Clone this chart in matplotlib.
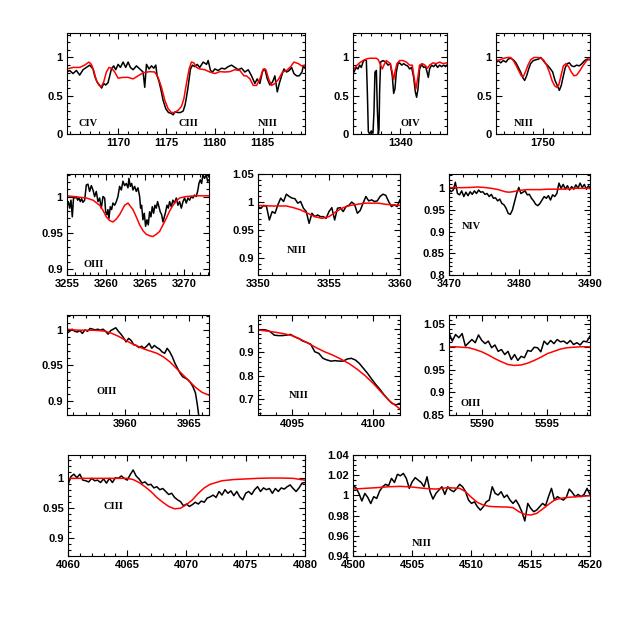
import matplotlib
matplotlib.use("Agg")
import matplotlib.pyplot as plt
from matplotlib.ticker import MultipleLocator, FormatStrFormatter, FixedLocator

# ---- panel 1: C IV / C III / N III, 1165-1189 A
p1_obs_x = [1164.65, 1164.93, 1165.28, 1165.63, 1165.97, 1166.32, 1166.67, 1167.01, 1167.36, 1167.53,
            1167.78, 1168.06, 1168.26, 1168.47, 1168.68, 1168.92, 1169.10, 1169.27, 1169.51, 1169.72,
            1169.97, 1170.21, 1170.49, 1170.76, 1171.01, 1171.25, 1171.53, 1171.88, 1172.22, 1172.57,
            1172.74, 1172.92, 1173.19, 1173.44, 1173.68, 1173.89, 1174.03, 1174.24, 1174.44, 1174.65,
            1174.93, 1175.21, 1175.49, 1175.69, 1175.90, 1176.18, 1176.46, 1176.74, 1176.94, 1177.08,
            1177.22, 1177.36, 1177.50, 1177.71, 1177.95, 1178.19, 1178.47, 1178.82, 1179.17, 1179.34,
            1179.58, 1179.79, 1180.03, 1180.38, 1180.73, 1181.08, 1181.42, 1181.77, 1182.12, 1182.47,
            1182.81, 1183.16, 1183.51, 1183.85, 1184.20, 1184.44, 1184.72, 1185.00, 1185.24, 1185.49,
            1185.76, 1186.04, 1186.28, 1186.53, 1186.74, 1186.98, 1187.22, 1187.50, 1187.78, 1188.02,
            1188.26, 1188.54, 1188.82, 1189.10, 1189.24, 1189.41]
p1_obs_y = [0.81, 0.83, 0.79, 0.83, 0.77, 0.84, 0.87, 0.90, 0.85, 0.76,
            0.68, 0.635, 0.60, 0.66, 0.64, 0.67, 0.76, 0.85, 0.89, 0.84,
            0.91, 0.87, 0.94, 0.87, 0.94, 0.87, 0.84, 0.89, 0.85, 0.81,
            0.61, 0.91, 0.85, 0.89, 0.86, 0.90, 0.76, 0.68, 0.57, 0.44,
            0.33, 0.28, 0.27, 0.25, 0.29, 0.28, 0.28, 0.30, 0.38, 0.48,
            0.59, 0.72, 0.85, 0.90, 0.88, 0.91, 0.87, 0.94, 0.91, 0.96,
            0.83, 0.81, 0.85, 0.83, 0.86, 0.85, 0.88, 0.90, 0.87, 0.84,
            0.86, 0.81, 0.84, 0.76, 0.66, 0.72, 0.66, 0.82, 0.85, 0.72,
            0.64, 0.68, 0.76, 0.55, 0.66, 0.76, 0.85, 0.81, 0.83, 0.87,
            0.79, 0.76, 0.76, 0.81, 0.89, 0.86]
p1_mod_x = [1164.65, 1165.28, 1165.97, 1166.49, 1166.94, 1167.19, 1167.43, 1167.71, 1167.99, 1168.23,
            1168.47, 1168.75, 1169.03, 1169.27, 1169.62, 1169.97, 1170.49, 1171.01, 1171.53, 1172.05,
            1172.57, 1173.26, 1173.78, 1174.13, 1174.48, 1174.83, 1175.17, 1175.52, 1175.87, 1176.22,
            1176.56, 1176.81, 1177.08, 1177.36, 1177.60, 1177.85, 1178.13, 1178.47, 1178.99, 1179.51,
            1180.03, 1180.56, 1181.08, 1181.60, 1182.12, 1182.64, 1183.06, 1183.33, 1183.68, 1184.03,
            1184.38, 1184.72, 1185.07, 1185.35, 1185.63, 1185.94, 1186.28, 1186.63, 1187.08, 1187.50,
            1187.92, 1188.26, 1188.72, 1189.06, 1189.41]
p1_mod_y = [0.85, 0.87, 0.87, 0.90, 0.94, 0.91, 0.83, 0.70, 0.635, 0.62,
            0.68, 0.81, 0.87, 0.86, 0.81, 0.73, 0.74, 0.74, 0.72, 0.76,
            0.80, 0.815, 0.81, 0.74, 0.61, 0.44, 0.33, 0.28, 0.28, 0.31,
            0.36, 0.46, 0.66, 0.85, 0.94, 0.93, 0.87, 0.85, 0.84, 0.81,
            0.79, 0.815, 0.81, 0.815, 0.84, 0.83, 0.76, 0.76, 0.72, 0.635,
            0.635, 0.72, 0.85, 0.84, 0.72, 0.635, 0.66, 0.71, 0.81, 0.83,
            0.88, 0.94, 0.92, 0.89, 0.90]

# ---- panel 2: O IV 1340
p2_obs_x = [1335.20, 1335.37, 1335.54, 1335.71, 1335.87, 1336.04, 1336.21, 1336.38, 1336.55, 1336.65,
            1336.75, 1336.88, 1337.05, 1337.22, 1337.32, 1337.42, 1337.56, 1337.66, 1337.76, 1337.83,
            1337.89, 1337.99, 1338.23, 1338.50, 1338.74, 1338.97, 1339.17, 1339.31, 1339.44, 1339.58,
            1339.75, 1339.91, 1340.12, 1340.32, 1340.52, 1340.72, 1340.92, 1341.13, 1341.33, 1341.50,
            1341.63, 1341.77, 1341.93, 1342.14, 1342.34, 1342.54, 1342.67, 1342.81, 1342.94, 1343.15,
            1343.35, 1343.55, 1343.75, 1343.95, 1344.16, 1344.36, 1344.56, 1344.69]
p2_obs_y = [0.785, 0.83, 0.87, 0.85, 0.90, 0.87, 0.94, 0.97, 0.96, 0.55,
            0.03, 0.0, 0.04, 0.01, 0.29, 0.81, 0.83, 0.33, 0.0, 0.06,
            0.55, 0.94, 0.96, 0.94, 0.90, 0.92, 0.76, 0.53, 0.59, 0.81,
            0.92, 0.93, 0.90, 0.92, 0.90, 0.89, 0.85, 0.87, 0.74, 0.55,
            0.48, 0.59, 0.85, 0.91, 0.87, 0.88, 0.815, 0.74, 0.85, 0.90,
            0.88, 0.91, 0.87, 0.90, 0.88, 0.90, 0.88, 0.90]
p2_mod_x = [1335.20, 1335.54, 1335.87, 1336.21, 1336.55, 1336.88, 1337.22, 1337.56, 1337.76, 1337.96,
            1338.16, 1338.36, 1338.57, 1338.77, 1338.97, 1339.17, 1339.31, 1339.44, 1339.64, 1339.91,
            1340.25, 1340.59, 1340.92, 1341.19, 1341.40, 1341.56, 1341.73, 1341.93, 1342.20, 1342.47,
            1342.74, 1342.94, 1343.28, 1343.62, 1343.95, 1344.29, 1344.69]
p2_mod_y = [0.84, 0.89, 0.93, 0.96, 0.98, 0.99, 0.99, 0.99, 0.97, 0.91,
            0.85, 0.91, 0.96, 0.94, 0.92, 0.81, 0.71, 0.81, 0.92, 0.96,
            0.96, 0.94, 0.90, 0.90, 0.72, 0.59, 0.72, 0.90, 0.92, 0.90,
            0.86, 0.90, 0.93, 0.92, 0.94, 0.92, 0.93]

# ---- panel 3: N III 1750
p3_obs_x = [1745.20, 1745.44, 1745.68, 1745.95, 1746.22, 1746.46, 1746.70, 1746.97, 1747.24, 1747.48,
            1747.72, 1747.92, 1748.13, 1748.33, 1748.54, 1748.74, 1749.01, 1749.29, 1749.56, 1749.76,
            1749.97, 1750.20, 1750.44, 1750.71, 1750.99, 1751.23, 1751.46, 1751.67, 1751.87, 1752.08,
            1752.28, 1752.49, 1752.69, 1752.93, 1753.17, 1753.44, 1753.71, 1753.98, 1754.26, 1754.53,
            1754.80]
p3_obs_y = [0.93, 0.96, 0.93, 0.96, 0.94, 0.98, 0.99, 0.97, 0.93, 0.87,
            0.81, 0.74, 0.70, 0.76, 0.85, 0.92, 0.96, 0.97, 0.98, 1.00,
            0.97, 0.93, 0.90, 0.86, 0.81, 0.70, 0.635, 0.57, 0.635, 0.76,
            0.87, 0.92, 0.93, 0.89, 0.88, 0.90, 0.89, 0.92, 0.96, 0.98,
            0.97]
p3_mod_x = [1745.20, 1745.61, 1746.02, 1746.36, 1746.70, 1746.97, 1747.24, 1747.51, 1747.79, 1747.99,
            1748.20, 1748.47, 1748.74, 1749.08, 1749.49, 1749.83, 1750.10, 1750.37, 1750.65, 1750.92,
            1751.19, 1751.40, 1751.60, 1751.80, 1752.08, 1752.35, 1752.62, 1752.89, 1753.17, 1753.44,
            1753.78, 1754.12, 1754.46, 1754.80]
p3_mod_y = [0.96, 0.97, 0.99, 1.00, 1.00, 0.96, 0.90, 0.83, 0.76, 0.75,
            0.81, 0.90, 0.97, 1.00, 1.00, 0.99, 0.96, 0.90, 0.81, 0.70,
            0.63, 0.61, 0.635, 0.74, 0.89, 0.92, 0.88, 0.81, 0.76, 0.77,
            0.83, 0.90, 0.96, 0.98]

# ---- panel 4: O III 3265
p4_obs_x = [3255.00, 3255.17, 3255.34, 3255.51, 3255.68, 3255.85, 3256.02, 3256.19, 3256.36, 3256.53,
            3256.70, 3256.87, 3257.04, 3257.26, 3257.47, 3257.68, 3257.89, 3258.11, 3258.32, 3258.53,
            3258.74, 3258.96, 3259.17, 3259.38, 3259.60, 3259.81, 3259.94, 3260.11, 3260.23, 3260.36,
            3260.53, 3260.70, 3260.87, 3261.09, 3261.30, 3261.51, 3261.72, 3261.94, 3262.15, 3262.36,
            3262.57, 3262.79, 3262.91, 3263.09, 3263.26, 3263.43, 3263.64, 3263.85, 3264.06, 3264.28,
            3264.40, 3264.53, 3264.70, 3264.87, 3265.04, 3265.21, 3265.38, 3265.55, 3265.72, 3265.89,
            3266.06, 3266.23, 3266.40, 3266.57, 3266.74, 3266.91, 3267.09, 3267.26, 3267.43, 3267.60,
            3267.77, 3267.94, 3268.11, 3268.32, 3268.53, 3268.74, 3268.96, 3269.17, 3269.38, 3269.60,
            3269.81, 3270.02, 3270.23, 3270.45, 3270.66, 3270.87, 3271.09, 3271.30, 3271.51, 3271.72,
            3271.85, 3272.02, 3272.19, 3272.36, 3272.57, 3272.79, 3272.96, 3273.13]
p4_obs_y = [0.9885, 0.993, 0.984, 0.995, 0.972, 1.0, 0.998, 1.0, 0.995, 0.998,
            0.993, 0.997, 0.992, 0.995, 1.016, 1.017, 1.007, 1.015, 1.009, 1.0,
            1.007, 0.993, 0.998, 0.984, 1.0, 0.998, 0.979, 0.975, 0.982, 0.970,
            0.986, 0.982, 0.991, 0.988, 0.993, 1.0, 1.014, 1.009, 1.021, 1.015,
            1.018, 1.012, 1.025, 1.014, 1.018, 1.009, 1.014, 1.007, 1.012, 1.0,
            0.984, 0.988, 0.968, 0.977, 0.959, 0.968, 0.961, 0.979, 0.972, 0.986,
            0.977, 0.988, 0.984, 0.993, 0.986, 0.979, 0.975, 0.965, 0.972, 0.979,
            0.988, 0.984, 0.993, 0.986, 0.995, 0.991, 0.998, 0.988, 0.993, 0.984,
            0.993, 0.998, 0.991, 0.998, 0.995, 1.0, 0.998, 1.002, 1.0, 1.009,
            1.018, 1.023, 1.018, 1.030, 1.025, 1.030, 1.021, 1.023]
p4_mod_x = [3255.00, 3255.77, 3256.62, 3257.47, 3258.32, 3259.17, 3259.60, 3260.02, 3260.45, 3260.87,
            3261.30, 3261.72, 3262.36, 3262.79, 3263.43, 3263.85, 3264.28, 3264.70, 3265.13, 3265.55,
            3265.98, 3266.40, 3266.83, 3267.26, 3267.68, 3268.11, 3268.53, 3268.96, 3269.38, 3270.23,
            3271.51, 3273.13]
p4_mod_y = [1.001, 1.0, 0.999, 0.998, 0.995, 0.988, 0.981, 0.972, 0.967, 0.965,
            0.969, 0.975, 0.988, 0.991, 0.982, 0.972, 0.961, 0.953, 0.948, 0.946,
            0.945, 0.948, 0.952, 0.961, 0.970, 0.980, 0.988, 0.994, 0.998, 1.0,
            1.001, 1.001]

# ---- panel 5: N III 3355
p5_obs_x = [3350.0, 3350.2, 3350.4, 3350.6, 3350.8, 3351.0, 3351.2, 3351.4, 3351.6, 3351.8,
            3352.0, 3352.2, 3352.4, 3352.6, 3352.8, 3353.0, 3353.2, 3353.4, 3353.6, 3353.8,
            3354.0, 3354.2, 3354.4, 3354.6, 3354.8, 3355.0, 3355.2, 3355.4, 3355.6, 3355.8,
            3356.0, 3356.2, 3356.4, 3356.6, 3356.8, 3357.0, 3357.2, 3357.4, 3357.6, 3357.8,
            3358.0, 3358.2, 3358.4, 3358.6, 3358.8, 3359.0, 3359.2, 3359.4, 3359.6, 3359.8,
            3360.0]
p5_obs_y = [0.992, 0.989, 0.994, 0.992, 0.968, 0.983, 0.980, 0.995, 1.007, 1.001,
            1.014, 1.010, 1.007, 1.006, 0.998, 1.001, 0.989, 0.983, 0.962, 0.980,
            0.974, 0.977, 0.974, 0.974, 0.971, 0.983, 0.990, 0.968, 0.989, 0.990,
            0.983, 0.992, 0.994, 1.0, 0.996, 0.980, 0.985, 0.998, 1.010, 1.002,
            1.004, 1.001, 1.002, 1.010, 1.014, 1.012, 1.001, 0.992, 0.995, 0.992,
            1.004]
p5_mod_x = [3350.0, 3350.5, 3351.0, 3351.5, 3352.0, 3352.5, 3353.0, 3353.5, 3354.0, 3354.5,
            3355.0, 3355.5, 3356.0, 3356.5, 3357.0, 3357.5, 3358.0, 3358.5, 3359.0, 3359.5,
            3360.0]
p5_mod_y = [0.994, 0.9935, 0.993, 0.993, 0.993, 0.990, 0.986, 0.980, 0.974, 0.971,
            0.974, 0.983, 0.990, 0.994, 0.996, 0.998, 0.998, 0.998, 0.996, 0.995,
            0.994]

# ---- panel 6: N IV 3480
p6_obs_x = [3470.0, 3470.3, 3470.6, 3470.9, 3471.2, 3471.5, 3471.8, 3472.1, 3472.4, 3472.7,
            3473.0, 3473.3, 3473.6, 3473.9, 3474.2, 3474.5, 3474.8, 3475.1, 3475.4, 3475.7,
            3476.0, 3476.3, 3476.6, 3476.9, 3477.2, 3477.5, 3477.8, 3478.1, 3478.4, 3478.7,
            3479.0, 3479.3, 3479.6, 3479.9, 3480.2, 3480.5, 3480.8, 3481.1, 3481.4, 3481.7,
            3482.0, 3482.3, 3482.6, 3482.9, 3483.2, 3483.5, 3483.8, 3484.1, 3484.4, 3484.7,
            3485.0, 3485.3, 3485.6, 3485.9, 3486.2, 3486.5, 3486.8, 3487.1, 3487.4, 3487.7,
            3488.0, 3488.3, 3488.6, 3488.9, 3489.2, 3489.5, 3489.8, 3490.0]
p6_obs_y = [0.998, 0.992, 0.996, 1.014, 0.988, 0.985, 0.994, 0.981, 0.991, 0.983,
            0.992, 0.986, 0.994, 0.988, 0.996, 0.991, 0.992, 0.986, 0.988, 0.981,
            0.986, 0.977, 0.978, 0.971, 0.975, 0.965, 0.962, 0.954, 0.942, 0.940,
            0.950, 0.969, 0.988, 1.002, 0.988, 0.991, 0.994, 0.985, 0.986, 0.977,
            0.971, 0.963, 0.960, 0.965, 0.973, 0.981, 0.977, 0.983, 0.973, 0.985,
            0.981, 0.988, 1.012, 1.0, 1.009, 0.998, 1.006, 0.996, 1.004, 0.998,
            1.008, 1.0, 1.012, 1.002, 1.009, 0.998, 1.006, 1.0]
p6_mod_x = [3470, 3471, 3472, 3473, 3474, 3475, 3476, 3477, 3478, 3478.5, 3479,
            3480, 3481, 3482, 3483, 3484, 3485, 3486, 3487, 3488, 3489, 3490]
p6_mod_y = [1.0015, 1.0015, 1.0015, 1.002, 1.003, 1.002, 1.0, 0.997, 0.992, 0.991, 0.992,
            0.995, 0.997, 0.997, 0.997, 0.998, 0.998, 0.998, 0.999, 1.0, 1.0, 1.0]

# ---- panel 7: O III 3962
p7_obs_x = [3955.5, 3955.7, 3955.9, 3956.1, 3956.3, 3956.5, 3956.7, 3956.9, 3957.1, 3957.3,
            3957.5, 3957.7, 3957.9, 3958.1, 3958.3, 3958.5, 3958.7, 3958.9, 3959.1, 3959.3,
            3959.5, 3959.7, 3959.9, 3960.1, 3960.3, 3960.5, 3960.7, 3960.9, 3961.1, 3961.3,
            3961.5, 3961.7, 3961.9, 3962.1, 3962.3, 3962.5, 3962.7, 3962.9, 3963.1, 3963.3,
            3963.5, 3963.7, 3963.9, 3964.1, 3964.3, 3964.5, 3964.7, 3964.9, 3965.1, 3965.3,
            3965.5, 3965.65, 3965.75, 3965.85]
p7_obs_y = [0.995, 0.998, 1.001, 0.998, 0.997, 0.999, 0.995, 1.0, 0.998, 1.002,
            1.001, 1.0, 1.001, 0.9995, 1.001, 0.998, 0.994, 0.999, 1.001, 1.003,
            0.998, 0.994, 0.989, 0.983, 0.988, 0.985, 0.979, 0.978, 0.975, 0.977,
            0.974, 0.977, 0.981, 0.974, 0.978, 0.975, 0.973, 0.969, 0.967, 0.974,
            0.969, 0.962, 0.953, 0.946, 0.939, 0.934, 0.932, 0.930, 0.926, 0.920,
            0.911, 0.894, 0.880, 0.860]
p7_mod_x = [3955.5, 3956.0, 3956.5, 3957.0, 3957.5, 3958.0, 3958.5, 3959.0, 3959.5, 3960.0,
            3960.5, 3961.0, 3961.5, 3962.0, 3962.5, 3963.0, 3963.5, 3964.0, 3964.5, 3965.0,
            3965.5, 3966.0, 3966.55]
p7_mod_y = [1.001, 1.0, 0.9995, 0.9995, 0.9995, 0.999, 0.998, 0.995, 0.991, 0.986,
            0.981, 0.977, 0.973, 0.970, 0.967, 0.962, 0.955, 0.946, 0.937, 0.928,
            0.919, 0.912, 0.908]

# ---- panel 8: N III 4097
p8_obs_x = [4092.9, 4093.15, 4093.4, 4093.65, 4093.9, 4094.15, 4094.4, 4094.65, 4094.9, 4095.15,
            4095.4, 4095.65, 4095.9, 4096.15, 4096.4, 4096.65, 4096.9, 4097.15, 4097.4, 4097.65,
            4097.9, 4098.15, 4098.4, 4098.65, 4098.9, 4099.15, 4099.4, 4099.65, 4099.9, 4100.15,
            4100.4, 4100.65, 4100.9, 4101.15, 4101.4, 4101.65]
p8_obs_y = [0.996, 0.997, 0.996, 0.989, 0.974, 0.972, 0.972, 0.974, 0.977, 0.967,
            0.960, 0.949, 0.943, 0.935, 0.903, 0.896, 0.875, 0.868, 0.863, 0.865,
            0.863, 0.863, 0.872, 0.875, 0.868, 0.853, 0.832, 0.811, 0.787, 0.764,
            0.744, 0.721, 0.701, 0.683, 0.676, 0.683]
p8_mod_x = [4092.9, 4093.5, 4094.0, 4094.5, 4095.0, 4095.5, 4096.0, 4096.5, 4097.0, 4097.5,
            4098.0, 4098.5, 4099.0, 4099.5, 4100.0, 4100.5, 4101.0, 4101.65]
p8_mod_y = [0.996, 0.991, 0.986, 0.980, 0.972, 0.957, 0.939, 0.920, 0.903, 0.889,
            0.872, 0.853, 0.829, 0.801, 0.768, 0.730, 0.693, 0.659]

# ---- panel 9: O III 5592
p9_obs_x = [5587.5, 5587.75, 5588.0, 5588.25, 5588.5, 5588.75, 5589.0, 5589.25, 5589.5, 5589.75,
            5590.0, 5590.25, 5590.5, 5590.75, 5591.0, 5591.25, 5591.5, 5591.75, 5592.0, 5592.25,
            5592.5, 5592.75, 5593.0, 5593.25, 5593.5, 5593.75, 5594.0, 5594.25, 5594.5, 5594.75,
            5595.0, 5595.25, 5595.5, 5595.75, 5596.0, 5596.25, 5596.5, 5596.75, 5597.0, 5597.25,
            5597.5, 5597.75, 5598.0, 5598.25]
p9_obs_y = [1.031, 1.0125, 1.027, 1.020, 1.029, 1.0015, 1.009, 1.016, 1.009, 1.026,
            1.014, 1.007, 1.0125, 0.998, 1.004, 0.990, 0.994, 0.983, 0.990, 0.972,
            0.983, 0.970, 0.979, 0.976, 0.992, 0.990, 0.999, 0.998, 0.989, 1.0125,
            1.005, 1.014, 1.007, 1.016, 1.011, 1.0125, 1.007, 1.014, 1.005, 1.009,
            1.004, 1.0125, 1.011, 1.0235]
p9_mod_x = [5587.5, 5588.0, 5588.5, 5589.0, 5589.5, 5590.0, 5590.5, 5591.0, 5591.5, 5592.0,
            5592.5, 5593.0, 5593.5, 5594.0, 5594.5, 5595.0, 5595.5, 5596.0, 5596.5, 5597.0,
            5597.5, 5598.25]
p9_mod_y = [1.0, 1.0, 0.999, 0.998, 0.994, 0.989, 0.982, 0.974, 0.967, 0.961,
            0.959, 0.960, 0.964, 0.970, 0.977, 0.985, 0.990, 0.995, 0.998, 0.999,
            1.0, 1.0]

# ---- panel 10: C III 4070
p10_obs_x = [4060.0, 4060.25, 4060.5, 4060.75, 4061.0, 4061.25, 4061.5, 4061.75, 4062.0, 4062.25,
             4062.5, 4062.75, 4063.0, 4063.25, 4063.5, 4063.75, 4064.0, 4064.25, 4064.5, 4064.75,
             4065.0, 4065.25, 4065.5, 4065.75, 4066.0, 4066.25, 4066.5, 4066.75, 4067.0, 4067.25,
             4067.5, 4067.75, 4068.0, 4068.25, 4068.5, 4068.75, 4069.0, 4069.25, 4069.5, 4069.75,
             4070.0, 4070.25, 4070.5, 4070.75, 4071.0, 4071.25, 4071.5, 4071.75, 4072.0, 4072.25,
             4072.5, 4072.75, 4073.0, 4073.25, 4073.5, 4073.75, 4074.0, 4074.25, 4074.5, 4074.75,
             4075.0, 4075.25, 4075.5, 4075.75, 4076.0, 4076.25, 4076.5, 4076.75, 4077.0, 4077.25,
             4077.5, 4077.75, 4078.0, 4078.25, 4078.5, 4078.75, 4079.0, 4079.25, 4079.5, 4079.75,
             4080.0]
p10_obs_y = [0.989, 1.003, 1.007, 1.001, 1.007, 0.997, 0.996, 0.994, 1.0, 0.996,
             0.997, 0.993, 0.999, 0.992, 1.0, 0.993, 1.001, 1.0, 1.004, 1.0,
             0.997, 1.006, 1.014, 1.004, 0.999, 0.992, 0.994, 0.989, 0.990, 0.984,
             0.986, 0.981, 0.983, 0.978, 0.973, 0.975, 0.968, 0.964, 0.961, 0.954,
             0.957, 0.953, 0.956, 0.960, 0.957, 0.962, 0.960, 0.967, 0.969, 0.972,
             0.968, 0.978, 0.972, 0.981, 0.975, 0.979, 0.971, 0.978, 0.969, 0.964,
             0.975, 0.978, 0.973, 0.981, 0.986, 0.978, 0.984, 0.981, 0.983, 0.975,
             0.983, 0.978, 0.984, 0.982, 0.986, 0.989, 0.983, 0.978, 0.984, 0.992,
             0.993]
p10_mod_x = [4060, 4061, 4062, 4063, 4064, 4065, 4065.5, 4066, 4066.5, 4067,
             4067.5, 4068, 4068.5, 4069, 4069.5, 4070, 4070.5, 4071, 4071.5, 4072,
             4073, 4074, 4075, 4076, 4077, 4078, 4079, 4080]
p10_mod_y = [1.0, 1.0, 1.0, 1.0, 1.0, 1.0, 0.998, 0.993, 0.986, 0.978,
             0.968, 0.960, 0.953, 0.949, 0.950, 0.956, 0.964, 0.975, 0.984, 0.990,
             0.996, 0.998, 0.999, 1.0, 1.0005, 1.0005, 1.0, 0.997]

# ---- panel 11: N III 4515
p11_obs_x = [4500.0, 4500.25, 4500.5, 4500.75, 4501.0, 4501.25, 4501.5, 4501.75, 4502.0, 4502.25,
             4502.5, 4502.75, 4503.0, 4503.25, 4503.5, 4503.75, 4504.0, 4504.25, 4504.5, 4504.75,
             4505.0, 4505.25, 4505.5, 4505.75, 4506.0, 4506.25, 4506.5, 4506.75, 4507.0, 4507.25,
             4507.5, 4507.75, 4508.0, 4508.25, 4508.5, 4508.75, 4509.0, 4509.25, 4509.5, 4509.75,
             4510.0, 4510.25, 4510.5, 4510.75, 4511.0, 4511.25, 4511.5, 4511.75, 4512.0, 4512.25,
             4512.5, 4512.75, 4513.0, 4513.25, 4513.5, 4513.75, 4514.0, 4514.25, 4514.5, 4514.75,
             4515.0, 4515.25, 4515.5, 4515.75, 4516.0, 4516.25, 4516.5, 4516.75, 4517.0, 4517.25,
             4517.5, 4517.75, 4518.0, 4518.25, 4518.5, 4518.75, 4519.0, 4519.25, 4519.5, 4519.75,
             4520.0]
p11_obs_y = [1.0096, 1.0077, 1.002, 0.9945, 1.002, 0.998, 0.992, 0.9988, 0.997, 1.0044,
             1.0086, 1.011, 1.0096, 1.0169, 1.0129, 1.0209, 1.0195, 1.0218, 1.0169, 1.007,
             1.0136, 1.0176, 1.0152, 1.0129, 1.0086, 1.0185, 1.0037, 0.9964, 1.002, 1.0053,
             1.0086, 1.001, 1.0086, 1.0053, 1.0037, 1.007, 1.011, 1.0086, 1.0037, 0.9954,
             0.9921, 0.9937, 0.9888, 0.9855, 0.9888, 0.9937, 0.9954, 1.0086, 1.002, 1.0004,
             1.0037, 0.998, 1.0004, 0.9954, 0.9921, 0.9954, 0.9905, 0.9839, 0.9747, 0.9921,
             0.9872, 0.9839, 0.9855, 0.9888, 0.9921, 0.9898, 0.9988, 1.007, 0.9954, 0.9988,
             0.997, 0.9954, 0.998, 1.0063, 1.003, 0.9988, 1.001, 0.9988, 1.001, 1.007,
             1.001]
p11_mod_x = [4500, 4501, 4502, 4503, 4504, 4505, 4506, 4507, 4508, 4509,
             4509.5, 4510, 4510.5, 4511, 4511.5, 4512, 4513, 4513.5, 4514, 4514.5,
             4515, 4515.5, 4516, 4516.5, 4517, 4517.5, 4518, 4519, 4520]
p11_mod_y = [1.0063, 1.007, 1.0077, 1.0086, 1.009, 1.0083, 1.007, 1.0063, 1.0077, 1.007,
             1.0037, 0.998, 0.9931, 0.9905, 0.9892, 0.9888, 0.9885, 0.9879, 0.9839, 0.9813,
             0.9806, 0.9822, 0.9865, 0.9911, 0.9954, 0.997, 0.998, 0.9988, 0.9997]

TICK_FONT = {"family": "Liberation Sans", "weight": "bold", "size": 8}
LABEL_FONT = {"family": "Liberation Serif", "weight": "bold", "size": 7.5}

fig = plt.figure(figsize=(6.23, 6.23), dpi=100)


def panel(rect, xlim, ylim, xticks, xminor, yticks, yminor, obs, mod, labels):
    ax = fig.add_axes(rect)
    ax.plot(obs[0], obs[1], color="black", lw=1.1)
    ax.plot(mod[0], mod[1], color="red", lw=1.1)
    ax.set_xlim(*xlim)
    ax.set_ylim(*ylim)
    ax.xaxis.set_major_locator(FixedLocator(xticks))
    ax.xaxis.set_minor_locator(MultipleLocator(xminor))
    ax.yaxis.set_major_locator(FixedLocator(yticks))
    ax.yaxis.set_minor_locator(MultipleLocator(yminor))
    ax.xaxis.set_major_formatter(FormatStrFormatter("%g"))
    ax.yaxis.set_major_formatter(FormatStrFormatter("%g"))
    ax.tick_params(which="both", direction="in", top=True, right=True, width=0.8)
    ax.tick_params(which="major", length=4.5, pad=3)
    ax.tick_params(which="minor", length=2.2)
    for lab in ax.get_xticklabels() + ax.get_yticklabels():
        lab.set_fontproperties(matplotlib.font_manager.FontProperties(**TICK_FONT))
    for sp in ax.spines.values():
        sp.set_linewidth(0.8)
    for text, fx, fy in labels:
        ax.text(fx, fy, text, transform=ax.transAxes, ha="center", va="center", **LABEL_FONT)
    return ax


panel([0.1075, 0.785, 0.382, 0.162], (1164.65, 1189.41), (0, 1.32),
      [1170, 1175, 1180, 1185], 1, [0, 0.5, 1], 0.1,
      (p1_obs_x, p1_obs_y), (p1_mod_x, p1_mod_y),
      [("CIV", 0.088, 0.10), ("CIII", 0.51, 0.10), ("NIII", 0.845, 0.10)])
panel([0.5666, 0.785, 0.1509, 0.162], (1335.2, 1344.7), (0, 1.32),
      [1340], 1, [0, 0.5, 1], 0.1,
      (p2_obs_x, p2_obs_y), (p2_mod_x, p2_mod_y), [("OIV", 0.61, 0.10)])
panel([0.7961, 0.785, 0.1509, 0.162], (1745.2, 1754.8), (0, 1.32),
      [1750], 1, [0, 0.5, 1], 0.1,
      (p3_obs_x, p3_obs_y), (p3_mod_x, p3_mod_y), [("NIII", 0.30, 0.10)])

panel([0.1075, 0.5586, 0.2279, 0.1621], (3255, 3273.13), (0.892, 1.031),
      [3255, 3260, 3265, 3270], 1, [0.9, 0.95, 1], 0.01,
      (p4_obs_x, p4_obs_y), (p4_mod_x, p4_mod_y), [("OIII", 0.185, 0.106)])
panel([0.4141, 0.5586, 0.2279, 0.1621], (3350, 3360), (0.87, 1.05),
      [3350, 3355, 3360], 1, [0.9, 0.95, 1, 1.05], 0.01,
      (p5_obs_x, p5_obs_y), (p5_mod_x, p5_mod_y), [("NIII", 0.27, 0.24)])
panel([0.7207, 0.5586, 0.2263, 0.1621], (3470, 3490), (0.8, 1.033),
      [3470, 3480, 3490], 2, [0.8, 0.85, 0.9, 0.95, 1], 0.01,
      (p6_obs_x, p6_obs_y), (p6_mod_x, p6_mod_y), [("NIV", 0.16, 0.485)])

panel([0.1075, 0.3339, 0.2279, 0.1605], (3955.5, 3966.55), (0.88, 1.021),
      [3960, 3965], 1, [0.9, 0.95, 1], 0.01,
      (p7_obs_x, p7_obs_y), (p7_mod_x, p7_mod_y), [("OIII", 0.28, 0.233)])
panel([0.4141, 0.3339, 0.2279, 0.1605], (4092.9, 4101.65), (0.633, 1.06),
      [4095, 4100], 1, [0.7, 0.8, 0.9, 1], 0.02,
      (p8_obs_x, p8_obs_y), (p8_mod_x, p8_mod_y), [("NIII", 0.29, 0.19)])
panel([0.7207, 0.3339, 0.2263, 0.1605], (5587.5, 5598.25), (0.85, 1.07),
      [5590, 5595], 1, [0.85, 0.9, 0.95, 1, 1.05], 0.01,
      (p9_obs_x, p9_obs_y), (p9_mod_x, p9_mod_y), [("OIII", 0.156, 0.11)])

panel([0.1091, 0.1075, 0.3804, 0.1621], (4060, 4080), (0.87, 1.039),
      [4060, 4065, 4070, 4075, 4080], 1, [0.9, 0.95, 1], 0.01,
      (p10_obs_x, p10_obs_y), (p10_mod_x, p10_mod_y), [("CIII", 0.19, 0.49)])
panel([0.5666, 0.1075, 0.3804, 0.1621], (4500, 4520), (0.94, 1.04),
      [4500, 4505, 4510, 4515, 4520], 1, [0.94, 0.96, 0.98, 1, 1.02, 1.04], 0.005,
      (p11_obs_x, p11_obs_y), (p11_mod_x, p11_mod_y), [("NIII", 0.29, 0.12)])

fig.savefig("out.png", dpi=100)
